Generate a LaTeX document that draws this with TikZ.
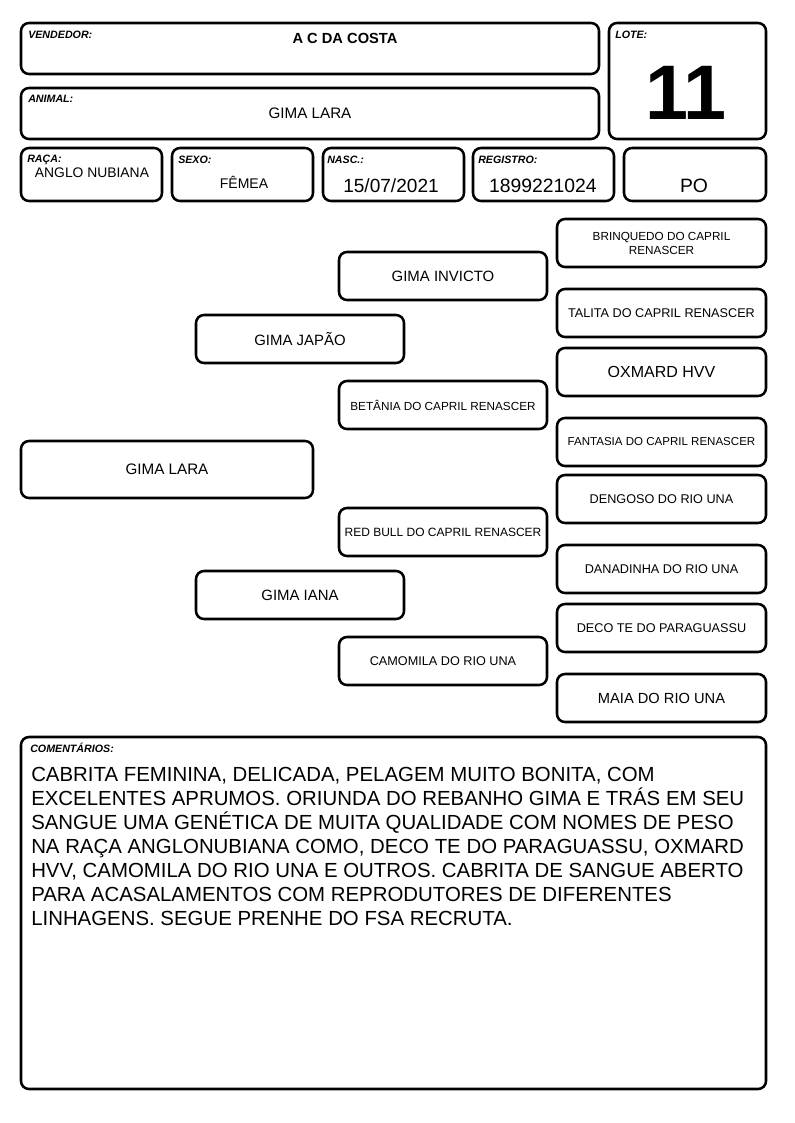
\documentclass[tikz,border=0pt]{standalone}
\usepackage{fontspec}
\setmainfont{Liberation Sans}
\usepackage{tikz}

\tikzset{
  frame/.style={draw, line width=1.9pt, rounded corners=6pt},
  tag/.style={anchor=base west, inner sep=0pt, font=\fontsize{8}{9}\selectfont\bfseries\itshape},
  value/.style={anchor=base, inner sep=0pt},
  pedbox/.style={draw, line width=1.9pt, rounded corners=6pt, minimum width=156pt, minimum height=36pt, inner sep=0pt, align=center},
}

\begin{document}
\begin{tikzpicture}[x=0.75pt, y=-0.75pt]
        \useasboundingbox (0,0) rectangle (794,1123);

        % header
        \draw[frame] (21,23) rectangle (599,74);
        \draw[frame] (609,23) rectangle (766,139);
        \draw[frame] (21,88) rectangle (599,139);
        \draw[frame] (21,148) rectangle (162,201);
        \draw[frame] (172,148) rectangle (313,201);
        \draw[frame] (323,148) rectangle (464,201);
        \draw[frame] (473,148) rectangle (614,201);
        \draw[frame] (624,148) rectangle (766,201);

        \node[tag] (vendtag) at (28,39) {VENDEDOR:};
        \node[tag] (lotetag) at (615,39) {LOTE:};
        \node[tag] (animaltag) at (28,103) {ANIMAL:};
        \node[tag] (racatag) at (27,163) {RAÇA:};
        \node[tag] (sexotag) at (178,164) {SEXO:};
        \node[tag] (nasctag) at (327,164) {NASC.:};
        \node[tag] (registag) at (478,164) {REGISTRO:};

        \node[value, font=\fontsize{11}{13}\selectfont\bfseries] (vendedor) at (345,43.5) {A C DA COSTA};
        \node[value, font=\fontsize{58}{60}\selectfont\bfseries] (lote) at (686,120) {11};
        \node[value, font=\fontsize{11.4}{13}\selectfont] (animal) at (310,118.5) {GIMA LARA};
        \node[value, font=\fontsize{10.4}{12}\selectfont] (raca) at (92,178) {ANGLO NUBIANA};
        \node[value, font=\fontsize{10.5}{12}\selectfont] (sexo) at (244,189) {FÊMEA};
        \node[value, font=\fontsize{14.3}{16}\selectfont] (nasc) at (391,193) {15/07/2021};
        \node[value, font=\fontsize{14.5}{16}\selectfont] (registro) at (543,193) {1899221024};
        \node[value, font=\fontsize{14.5}{16}\selectfont] (po) at (694,193) {PO};

        % pedigree
        \node[pedbox, minimum width=219pt, minimum height=42.75pt, font=\fontsize{11.4}{13}\selectfont] (lara) at (167,469.5) {GIMA LARA};

        \node[pedbox, font=\fontsize{11.2}{13}\selectfont] (japao) at (300,339) {GIMA JAPÃO};
        \node[pedbox, font=\fontsize{11.2}{13}\selectfont] (iana) at (300,595) {GIMA IANA};

        \node[pedbox, font=\fontsize{11.2}{13}\selectfont] (invicto) at (443,276) {GIMA INVICTO};
        \node[pedbox, font=\fontsize{8.8}{10}\selectfont] (betania) at (443,405) {BETÂNIA DO CAPRIL RENASCER};
        \node[pedbox, font=\fontsize{9}{10}\selectfont] (redbull) at (443,532) {RED BULL DO CAPRIL RENASCER};
        \node[pedbox, font=\fontsize{9.5}{11}\selectfont] (camomila) at (443,661) {CAMOMILA DO RIO UNA};

        \node[pedbox, minimum width=156.75pt, font=\fontsize{8.8}{10.5}\selectfont] (brinquedo) at (661.5,243) {BRINQUEDO DO CAPRIL\\RENASCER};
        \node[pedbox, minimum width=156.75pt, font=\fontsize{9.5}{11}\selectfont] (talita) at (661.5,313) {TALITA DO CAPRIL RENASCER};
        \node[pedbox, minimum width=156.75pt, font=\fontsize{12}{14}\selectfont] (oxmard) at (661.5,372) {OXMARD HVV};
        \node[pedbox, minimum width=156.75pt, font=\fontsize{8.65}{10}\selectfont] (fantasia) at (661.5,442) {FANTASIA DO CAPRIL RENASCER};
        \node[pedbox, minimum width=156.75pt, font=\fontsize{9.5}{11}\selectfont] (dengoso) at (661.5,499) {DENGOSO DO RIO UNA};
        \node[pedbox, minimum width=156.75pt, font=\fontsize{9.5}{11}\selectfont] (danadinha) at (661.5,569) {DANADINHA DO RIO UNA};
        \node[pedbox, minimum width=156.75pt, font=\fontsize{9.5}{11}\selectfont] (deco) at (661.5,628) {DECO TE DO PARAGUASSU};
        \node[pedbox, minimum width=156.75pt, font=\fontsize{11}{13}\selectfont] (maia) at (661.5,698) {MAIA DO RIO UNA};

        % comments
        \draw[frame] (21,737) rectangle (766,1089);
        \node[tag] (comtag) at (30,752) {COMENTÁRIOS:};
        \node[anchor=north west, inner sep=0pt, align=left, font=\fontsize{15.3}{18}\selectfont] (comments) at (31,766.5)
          {CABRITA FEMININA, DELICADA, PELAGEM MUITO BONITA, COM\\
           EXCELENTES APRUMOS. ORIUNDA DO REBANHO GIMA E TRÁS EM SEU\\
           SANGUE UMA GENÉTICA DE MUITA QUALIDADE COM NOMES DE PESO\\
           NA RAÇA ANGLONUBIANA COMO, DECO TE DO PARAGUASSU, OXMARD\\
           HVV, CAMOMILA DO RIO UNA E OUTROS. CABRITA DE SANGUE ABERTO\\
           PARA ACASALAMENTOS COM REPRODUTORES DE DIFERENTES\\
           LINHAGENS. SEGUE PRENHE DO FSA RECRUTA.};
    \end{tikzpicture}
\end{document}
